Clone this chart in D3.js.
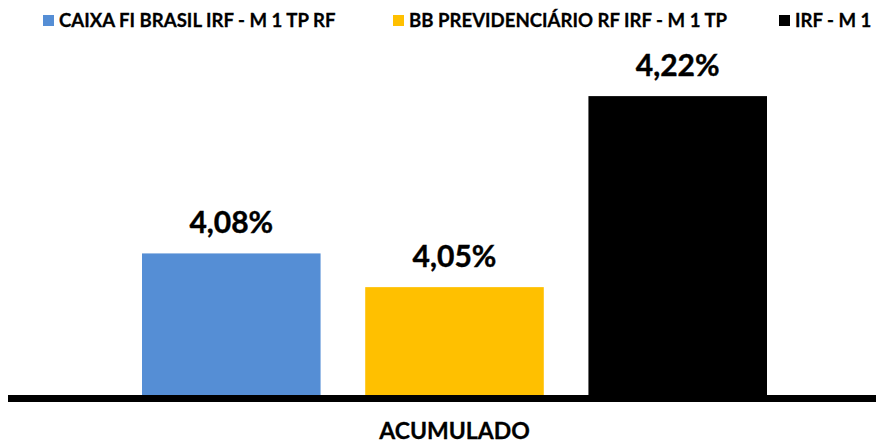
<!DOCTYPE html>
<html>
<head>
<meta charset="utf-8">
<script src="https://cdn.jsdelivr.net/npm/d3@7"></script>
<style>
  html, body { margin: 0; padding: 0; background: #fff; }
  text { font-family: Lato, "Open Sans", sans-serif; font-weight: bold; }
</style>
</head>
<body>
<svg id="chart" width="876" height="444"></svg>
<script>
const categories = ["ACUMULADO"];
const seriesNames = ["CAIXA FI BRASIL IRF - M 1 TP RF", "BB PREVIDENCIÁRIO RF IRF - M 1 TP", "IRF - M 1"];
const seriesValues = [4.08, 4.05, 4.22];
const seriesColors = ["#558ED5", "#FFC000", "#000000"];

const svg = d3.select("#chart");

const y = d3.scaleLinear()
    .domain([3.954, 4.25])
    .range([395, 62.4]);

const x0 = d3.scaleBand()
    .domain(categories)
    .range([142, 767]);

const x1 = d3.scaleBand()
    .domain(seriesNames)
    .range([0, x0.bandwidth()])
    .paddingInner(0.2);

const data = seriesNames.map(function(name, i) {
    return { name: name, value: seriesValues[i], color: seriesColors[i], cat: categories[0] };
});

const bars = svg.append("g");

bars.selectAll("rect")
    .data(data)
    .enter()
    .append("rect")
    .attr("x", function(d) { return x0(d.cat) + x1(d.name); })
    .attr("y", function(d) { return y(d.value); })
    .attr("width", x1.bandwidth())
    .attr("height", function(d) { return y.range()[0] - y(d.value); })
    .attr("fill", function(d) { return d.color; });

bars.selectAll("text")
    .data(data)
    .enter()
    .append("text")
    .attr("x", function(d) { return x0(d.cat) + x1(d.name) + x1.bandwidth() / 2; })
    .attr("y", function(d) { return y(d.value) - 20; })
    .attr("text-anchor", "middle")
    .attr("font-size", 30)
    .attr("fill", "#000")
    .attr("stroke", "#000")
    .attr("stroke-width", 0.4)
    .text(function(d) { return d3.format(".2f")(d.value).replace(".", ",") + "%"; });

// baseline
svg.append("rect")
    .attr("x", 8)
    .attr("y", y.range()[0])
    .attr("width", 868)
    .attr("height", 7)
    .attr("fill", "#000");

// category label
svg.selectAll(".cat")
    .data(categories)
    .enter()
    .append("text")
    .attr("class", "cat")
    .attr("x", function(d) { return x0(d) + x0.bandwidth() / 2; })
    .attr("y", 439)
    .attr("text-anchor", "middle")
    .attr("font-size", 23)
    .attr("fill", "#000")
    .attr("stroke", "#000")
    .attr("stroke-width", 0.3)
    .text(function(d) { return d; });

// legend
const legendX = [43, 393, 779];
const legend = svg.append("g")
    .selectAll("g")
    .data(data)
    .enter()
    .append("g")
    .attr("transform", function(d, i) { return "translate(" + legendX[i] + ",0)"; });

legend.append("rect")
    .attr("x", 0)
    .attr("y", 15)
    .attr("width", 11)
    .attr("height", 11)
    .attr("fill", function(d) { return d.color; });

legend.append("text")
    .attr("x", 16)
    .attr("y", 27)
    .attr("font-size", 18.6)
    .attr("fill", "#000")
    .attr("stroke", "#000")
    .attr("stroke-width", 0.3)
    .text(function(d) { return d.name; });
</script>
</body>
</html>
